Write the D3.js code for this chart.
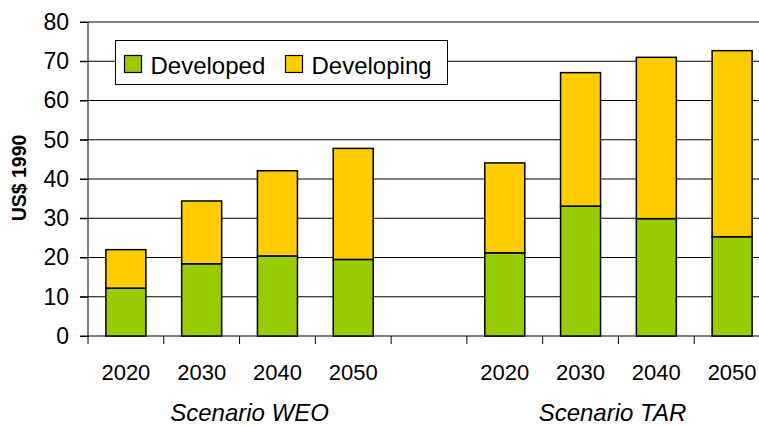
<!DOCTYPE html>
<html>
<head>
<meta charset="utf-8">
<script src="https://cdn.jsdelivr.net/npm/d3@7"></script>
<style>
	body { margin: 0; background: #fff; }
	svg { display: block; font-family: "Liberation Sans", Arial, sans-serif; }
</style>
</head>
<body>
<div id="chart"></div>
<script>
// ---------- DATA ----------
const slots = ["W2020", "W2030", "W2040", "W2050", "gap", "T2020", "T2030", "T2040", "T2050"];
const slotLabels = ["2020", "2030", "2040", "2050", "", "2020", "2030", "2040", "2050"];
const developed = [12.2, 18.4, 20.4, 19.5, null, 21.2, 33.1, 29.9, 25.3];
const developing = [9.8, 16.0, 21.7, 28.3, null, 22.9, 34.0, 41.1, 47.4];
const scenarios = ["Scenario WEO", "Scenario TAR"];
const seriesNames = ["Developed", "Developing"];
const yTicks = [0, 10, 20, 30, 40, 50, 60, 70, 80];

const colors = {
	green: "#99CC00",
	yellow: "#FFCC00",
};

const size = { w: 759, h: 426 };
const margin = { top: 22, right: -11, bottom: 90, left: 88 };

const svg = d3
	.select("#chart")
	.append("svg")
	.attr("width", size.w)
	.attr("height", size.h);

const xScale = d3
	.scaleBand()
	.domain(slots)
	.range([margin.left, size.w - margin.right]);

const yScale = d3
	.scaleLinear()
	.domain([0, 80])
	.range([size.h - margin.bottom, margin.top]);

// gridlines
svg
	.append("g")
	.selectAll("line")
	.data(yTicks)
	.enter()
	.append("line")
	.attr("x1", margin.left - 8)
	.attr("x2", size.w)
	.attr("y1", (d) => yScale(d))
	.attr("y2", (d) => yScale(d))
	.attr("stroke", "#000")
	.attr("stroke-width", 1);

// y axis
const yAxis = svg
	.append("g")
	.attr("transform", `translate(${margin.left}, 0)`)
	.call(d3.axisLeft(yScale).tickValues(yTicks).tickSize(8).tickPadding(11));
yAxis.select(".domain").attr("stroke", "#000").attr("d", `M0,${yScale(80)}V${yScale(0) + 1}`);
yAxis.selectAll("text").attr("font-size", 23).attr("fill", "#000").attr("font-family", "Liberation Sans, Arial");

// x axis ticks at band boundaries
const xAxisG = svg.append("g");
xAxisG
	.selectAll("line")
	.data(slots)
	.enter()
	.append("line")
	.attr("x1", (d) => xScale(d))
	.attr("x2", (d) => xScale(d))
	.attr("y1", yScale(0))
	.attr("y2", yScale(0) + 8)
	.attr("stroke", "#000");

xAxisG
	.selectAll("text")
	.data(slots)
	.enter()
	.append("text")
	.attr("x", (d) => xScale(d) + xScale.bandwidth() / 2)
	.attr("y", 380)
	.attr("text-anchor", "middle")
	.attr("font-size", 22)
	.text((d, i) => slotLabels[i]);

// scenario labels
const groupCenters = [
	(xScale("W2020") + xScale("W2050") + xScale.bandwidth()) / 2 + 10,
	(xScale("T2020") + xScale("T2050") + xScale.bandwidth()) / 2 - 6,
];
svg
	.append("g")
	.selectAll("text")
	.data(scenarios)
	.enter()
	.append("text")
	.attr("x", (d, i) => groupCenters[i])
	.attr("y", 421)
	.attr("text-anchor", "middle")
	.attr("font-size", 24)
	.attr("font-style", "italic")
	.text((d) => d);

// y axis title
svg
	.append("text")
	.attr("transform", `translate(26, 178) rotate(-90)`)
	.attr("text-anchor", "middle")
	.attr("font-size", 19.5)
	.attr("font-weight", "bold")
	.text("US$ 1990");

// stacked bars
const barW = 40;
const stackData = slots
	.map((s, i) => ({ slot: s, dev: developed[i], ing: developing[i] }))
	.filter((d) => d.dev !== null);

const bars = svg.append("g").attr("stroke", "#000").attr("stroke-width", 1.5);
bars
	.selectAll("rect.dev")
	.data(stackData)
	.enter()
	.append("rect")
	.attr("x", (d) => xScale(d.slot) + (xScale.bandwidth() - barW) / 2)
	.attr("width", barW)
	.attr("y", (d) => yScale(d.dev))
	.attr("height", (d) => yScale(0) - yScale(d.dev))
	.attr("fill", colors.green);
bars
	.selectAll("rect.ing")
	.data(stackData)
	.enter()
	.append("rect")
	.attr("x", (d) => xScale(d.slot) + (xScale.bandwidth() - barW) / 2)
	.attr("width", barW)
	.attr("y", (d) => yScale(d.dev + d.ing))
	.attr("height", (d) => yScale(d.dev) - yScale(d.dev + d.ing))
	.attr("fill", colors.yellow);

// legend
const legend = svg.append("g").attr("transform", "translate(115.5, 40.5)");
legend
	.append("rect")
	.attr("width", 332)
	.attr("height", 44)
	.attr("fill", "#fff")
	.attr("stroke", "#000");
const legendX = [9, 170];
const legendColors = [colors.green, colors.yellow];
seriesNames.forEach((name, i) => {
	legend
		.append("rect")
		.attr("x", legendX[i])
		.attr("y", 15)
		.attr("width", 17)
		.attr("height", 17)
		.attr("fill", legendColors[i])
		.attr("stroke", "#000")
		.attr("stroke-width", 1.2);
	legend
		.append("text")
		.attr("x", legendX[i] + 26)
		.attr("y", 33)
		.attr("font-size", 24)
		.text(name);
});
</script>
</body>
</html>
